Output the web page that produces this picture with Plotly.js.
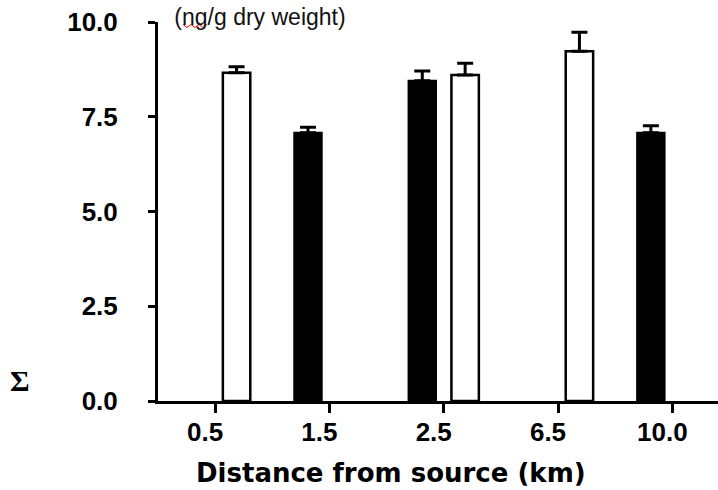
<!DOCTYPE html>
<html>
<head>
<meta charset="utf-8">
<script src="https://cdn.plot.ly/plotly-3.0.1.min.js"></script>
<style>
  html, body { margin: 0; padding: 0; background: #fff; }
  #chart { width: 718px; height: 490px; }
</style>
</head>
<body>
<div id="chart"></div>
<script>
// ---- data ----
var categories = ["0.5", "1.5", "2.5", "6.5", "10.0"];
var blackValues = [null, 7.08, 8.45, null, 7.08];
var blackErrUp  = [0, 0.14, 0.26, 0, 0.18];
var whiteValues = [8.66, null, 8.60, 9.23, null];
var whiteErrUp  = [0.16, 0, 0.31, 0.50, 0];
var noErrDown   = [0, 0, 0, 0, 0];
var yTickValues = [0, 2.5, 5, 7.5, 10];
var yTickLabels = ["0.0", "2.5", "5.0", "7.5", "10.0"];
var chartTitle = "(ng/g dry weight)";
var xTitle = "Distance from source (km)";
var yTitle = "\u03A3";

var traces = [
  {
    type: "bar", name: "black", x: categories, y: blackValues,
    marker: { color: "#000000", line: { color: "#000000", width: 2 } },
    error_y: { type: "data", symmetric: false, array: blackErrUp, arrayminus: noErrDown,
               color: "#000000", thickness: 3, width: 8 },
    hoverinfo: "skip"
  },
  {
    type: "bar", name: "white", x: categories, y: whiteValues,
    marker: { color: "#ffffff", line: { color: "#000000", width: 2.5 } },
    error_y: { type: "data", symmetric: false, array: whiteErrUp, arrayminus: noErrDown,
               color: "#000000", thickness: 3, width: 8 },
    hoverinfo: "skip"
  }
];

var layout = {
  width: 718, height: 490,
  margin: { l: 158, r: 0, t: 22, b: 89, pad: 0 },
  paper_bgcolor: "#ffffff", plot_bgcolor: "#ffffff",
  showlegend: false,
  barmode: "group", bargap: 0.25, bargroupgap: 0.36,
  font: { family: "Liberation Sans, Arial, sans-serif", color: "#000000" },
  title: {
    text: chartTitle,
    font: { family: "Liberation Sans, Arial, sans-serif", size: 23, color: "#111111" },
    xref: "container", yref: "container",
    x: 260 / 718, xanchor: "center",
    y: 1 - 17 / 490, yanchor: "middle"
  },
  xaxis: {
    type: "category",
    range: [-0.5, 4.4],
    showline: true, linecolor: "#000000", linewidth: 3,
    ticks: "outside", ticklen: 9, tickwidth: 3, tickcolor: "#000000",
    showgrid: false, zeroline: false,
    tickfont: { family: "Liberation Sans, Arial, sans-serif", size: 26, weight: "bold", color: "#000000" },
    ticklabelshift: -10,
    ticklabelstandoff: -3,
    fixedrange: true
  },
  yaxis: {
    range: [0, 10],
    tickvals: yTickValues, ticktext: yTickLabels,
    showline: true, linecolor: "#000000", linewidth: 3,
    ticks: "outside", ticklen: 7, tickwidth: 3, tickcolor: "#000000",
    showgrid: false, zeroline: false,
    tickfont: { family: "Liberation Sans, Arial, sans-serif", size: 26, weight: "bold", color: "#000000" },
    ticklabelstandoff: 25,
    fixedrange: true
  },
  annotations: [
    {
      text: xTitle, showarrow: false,
      xref: "paper", yref: "paper",
      x: (391 - 158) / 560, y: (400.5 - 472) / 379,
      xanchor: "center", yanchor: "middle",
      font: { family: "DejaVu Sans, sans-serif", size: 26, weight: "bold", color: "#000000" }
    },
    {
      text: yTitle, showarrow: false,
      xref: "paper", yref: "paper",
      x: (20 - 158) / 560, y: (400.5 - 380) / 379,
      xanchor: "center", yanchor: "middle",
      font: { family: "Liberation Serif, serif", size: 30, weight: "bold", color: "#000000" }
    }
  ],
  shapes: [
    {
      type: "path", xref: "paper", yref: "paper",
      path: "M " + ((183 - 158) / 560) + " " + ((400.5 - 24) / 379) +
            " L " + ((187 - 158) / 560) + " " + ((400.5 - 27) / 379) +
            " L " + ((191 - 158) / 560) + " " + ((400.5 - 24) / 379) +
            " L " + ((195 - 158) / 560) + " " + ((400.5 - 27) / 379) +
            " L " + ((199 - 158) / 560) + " " + ((400.5 - 24) / 379) +
            " L " + ((203 - 158) / 560) + " " + ((400.5 - 27) / 379) +
            " L " + ((207 - 158) / 560) + " " + ((400.5 - 24) / 379),
      line: { color: "#ff0000", width: 1 }
    }
  ]
};

Plotly.newPlot("chart", traces, layout, { staticPlot: true, displayModeBar: false });
</script>
</body>
</html>
